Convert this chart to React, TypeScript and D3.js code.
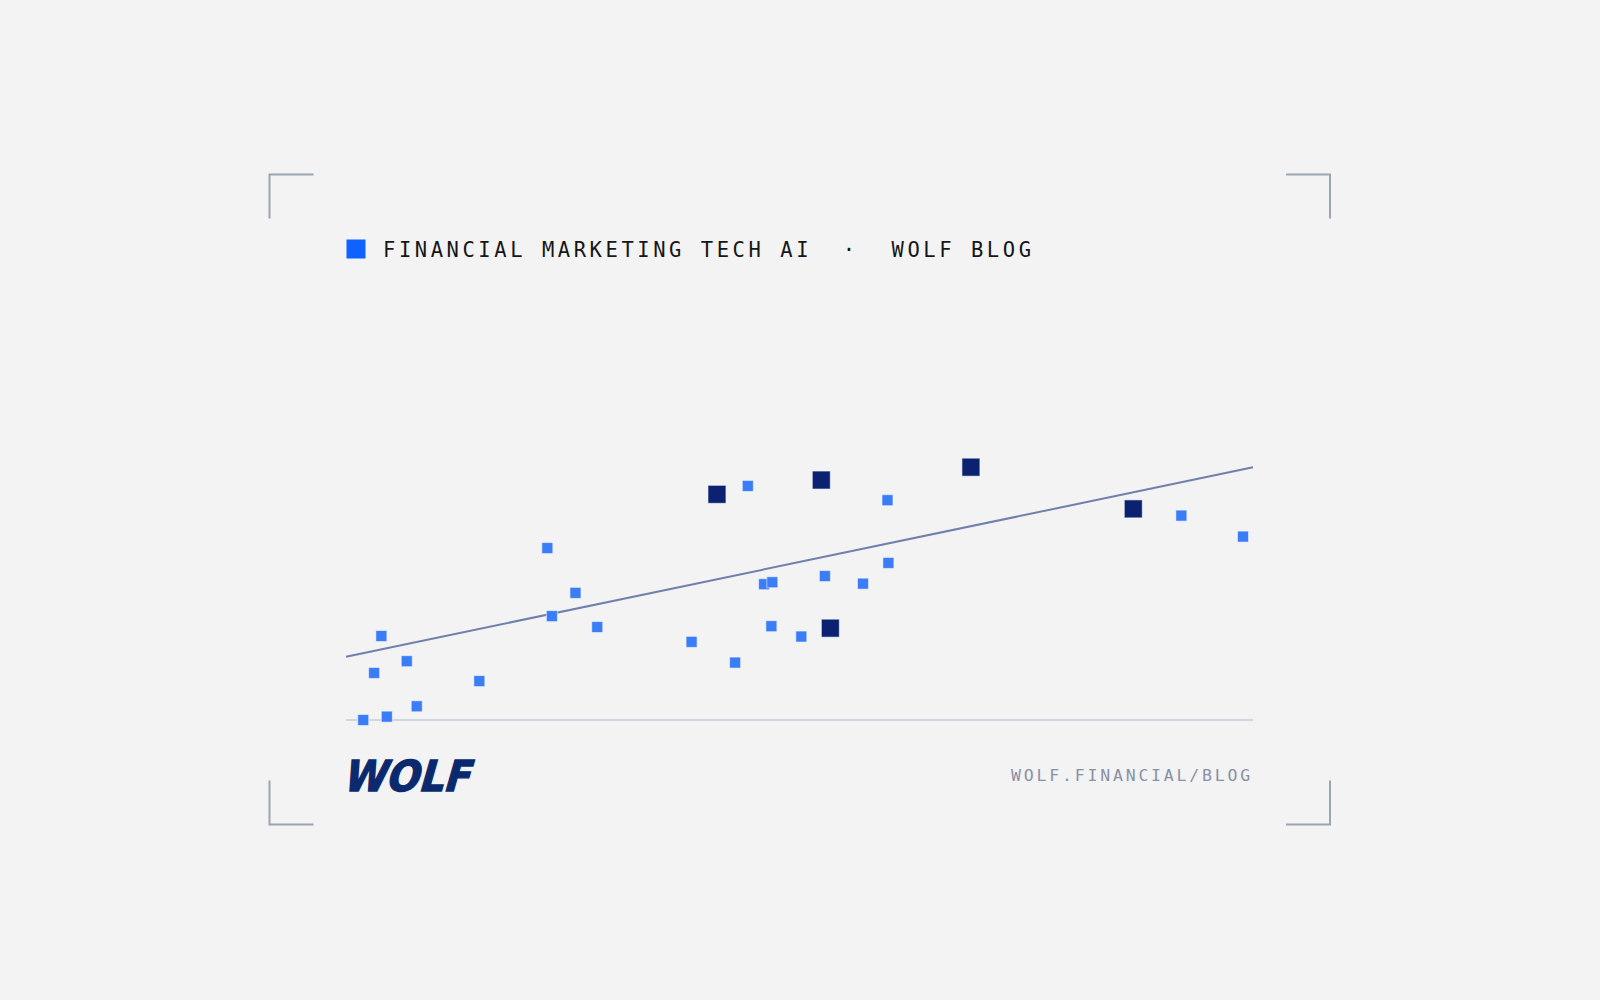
import React from 'react';
import * as d3 from 'd3';

// values (x: 0–100 along the axis, y: 0–100 above baseline)
const lightX = [1.9, 4.5, 7.8, 3.1, 3.9, 6.7, 14.7, 22.2, 25.3, 22.7, 27.7, 38.1, 42.9, 44.3, 46.1, 47.0, 46.9, 59.7, 52.8, 57.0, 59.8, 50.2, 92.1, 98.9];
const lightY = [0, 1.2, 4.9, 16.8, 30.0, 21.0, 13.9, 61.4, 45.4, 37.1, 33.2, 27.9, 20.5, 83.6, 48.5, 49.2, 33.5, 78.5, 51.4, 48.7, 56.1, 29.8, 73.0, 65.5];
const darkX = [40.9, 52.4, 68.9, 53.4, 86.8];
const darkY = [80.6, 85.7, 90.3, 32.8, 75.4];
const trendX = [0, 100];
const trendY = [22.6, 90.25];

const headerMain = 'FINANCIAL MARKETING TECH AI';
const headerSep = '·';
const headerBlog = 'WOLF BLOG';
const footerUrl = 'WOLF.FINANCIAL/BLOG';
const logoText = 'WOLF';

const W = 1600;
const H = 1000;
const plot = { left: 346, right: 1253, top: 440, bottom: 720 };

const BG = '#f3f3f3';
const LIGHT = '#3b7cf7';
const DARK = '#0b2270';
const BRACKET = '#9ba4b1';

export default function App() {
  const x = d3.scaleLinear().domain([0, 100]).range([plot.left, plot.right]);
  const y = d3.scaleLinear().domain([0, 100]).range([plot.bottom, plot.top]);

  const light = lightX.map((v, i) => ({ x: v, y: lightY[i] }));
  const dark = darkX.map((v, i) => ({ x: v, y: darkY[i] }));
  const trend = d3
    .line<number>()
    .x((d) => x(d))
    .y((_, i) => y(trendY[i]))(trendX);

  const mono = '"DejaVu Sans Mono", "Liberation Mono", monospace';

  // corner brackets: [x, y, dx, dy]
  const arm = 44;
  const bl = 269.5, br = 1330, bt = 174.5, bb = 824.5;
  const corners = [
    [bl, bt, 1, 1],
    [br, bt, -1, 1],
    [bl, bb, 1, -1],
    [br, bb, -1, -1],
  ];

  return (
    <svg
      width={W}
      height={H}
      style={{ position: 'absolute', left: 0, top: 0, display: 'block' }}
    >
      <rect width={W} height={H} fill={BG} />

      {corners.map(([cx, cy, dx, dy], i) => (
        <path
          key={i}
          d={`M${cx + dx * arm},${cy}H${cx}V${cy + dy * arm}`}
          fill="none"
          stroke={BRACKET}
          strokeWidth={2}
        />
      ))}

      {/* header */}
      <rect x={346.5} y={239.5} width={19} height={19} fill="#0f62fe" />
      <text x={383} y={256.5} fontFamily={mono} fontSize={20.5} letterSpacing={3.55} fill="#161616">
        {headerMain}
      </text>
      <text x={849} y={256.5} fontFamily={mono} fontSize={20.5} textAnchor="middle" fill="#161616">
        {headerSep}
      </text>
      <text x={891.5} y={256.5} fontFamily={mono} fontSize={20.5} letterSpacing={3.55} fill="#161616">
        {headerBlog}
      </text>

      {/* baseline */}
      <line
        x1={plot.left}
        x2={plot.right}
        y1={y(0)}
        y2={y(0)}
        stroke="#c6cbd9"
        strokeWidth={1.6}
      />

      {/* trend */}
      <path d={trend ?? ''} fill="none" stroke="#7080ac" strokeWidth={2} />

      {light.map((d, i) => (
        <rect
          key={`l${i}`}
          x={x(d.x) - 5.5}
          y={y(d.y) - 5.5}
          width={11}
          height={11}
          fill={LIGHT}
          stroke="#ffffff"
          strokeOpacity={0.55}
          strokeWidth={1}
        />
      ))}
      {dark.map((d, i) => (
        <rect
          key={`d${i}`}
          x={x(d.x) - 9}
          y={y(d.y) - 9}
          width={18}
          height={18}
          fill={DARK}
          stroke="#ffffff"
          strokeOpacity={0.6}
          strokeWidth={1}
        />
      ))}

      {/* footer */}
      <g transform="translate(346,790.5) skewX(-16)">
        <text
          x={-4}
          y={0}
          fontFamily='"DejaVu Sans", "Liberation Sans", sans-serif'
          fontWeight={700}
          fontSize={42.5}
          textLength={127}
          lengthAdjust="spacingAndGlyphs"
          fill="#0b2a6e"
          stroke="#0b2a6e"
          strokeWidth={1.4}
        >
          {logoText}
        </text>
      </g>
      <text
        x={plot.right}
        y={781}
        textAnchor="end"
        fontFamily={mono}
        fontSize={16.5}
        letterSpacing={2.8}
        fill="#8891a6"
      >
        {footerUrl}
      </text>
    </svg>
  );
}
